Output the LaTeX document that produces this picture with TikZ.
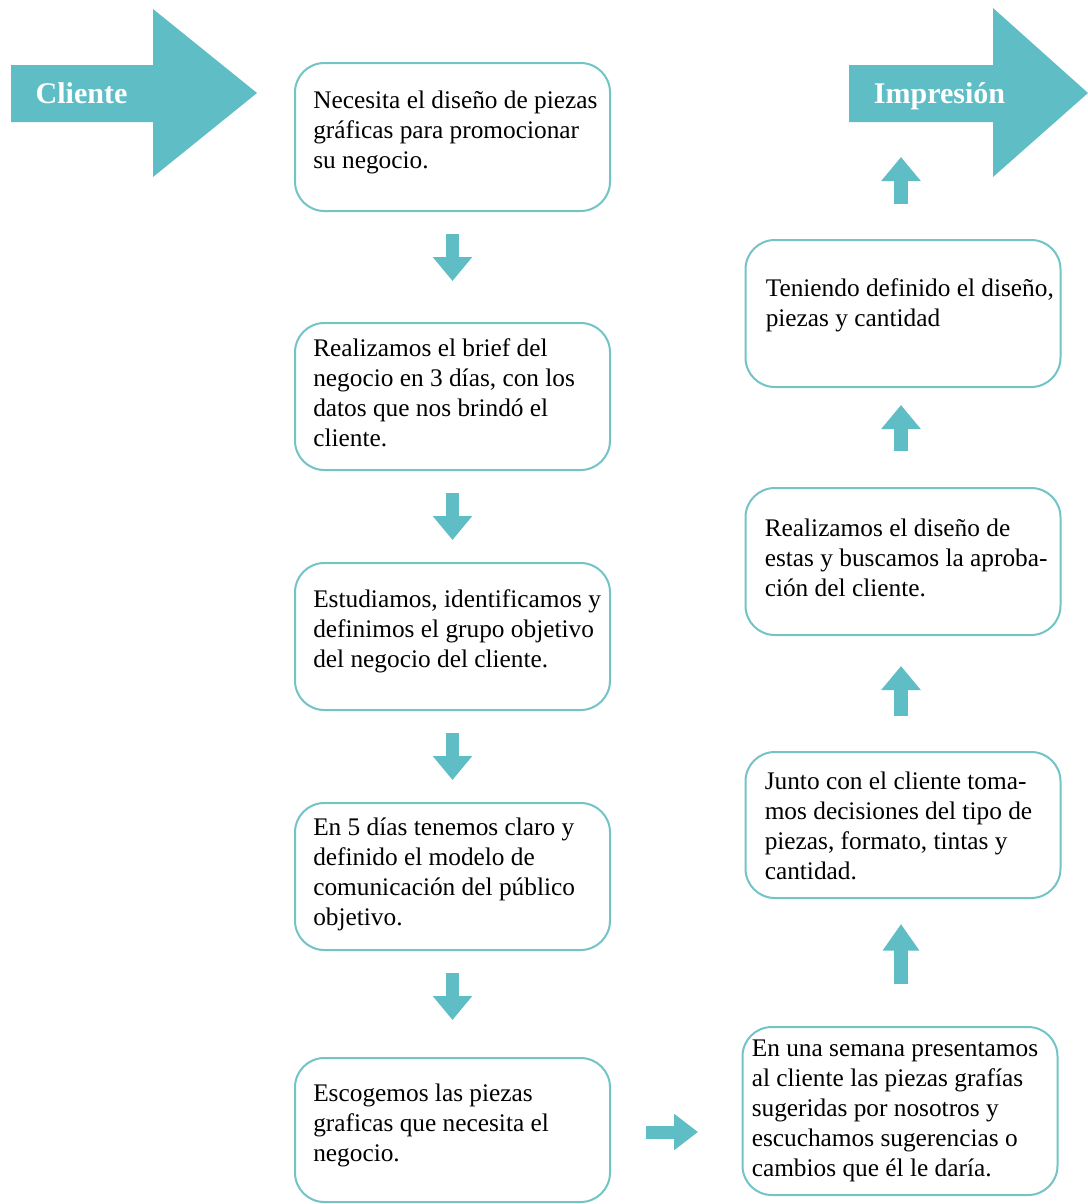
\documentclass[tikz,border=0pt]{standalone}
\usepackage{fontspec}
\setmainfont{Liberation Serif}
\usetikzlibrary{arrows.meta,calc}
\definecolor{teal1}{HTML}{5FBEC5}
\definecolor{boxline}{HTML}{72C4C7}
\begin{document}
\begin{tikzpicture}[x=0.75pt,y=-0.75pt,
  box/.style={draw=boxline, line width=1.5pt, rounded corners=22pt, minimum width=236.25pt, inner sep=0pt},
  txt/.style={anchor=west, align=left, inner sep=0pt, font=\fontsize{19}{22.5}\selectfont, text=black},
  blk/.style={draw=teal1, line width=9.75pt, -{Triangle[width=28.5pt,length=18pt]}},
  upblk/.style={draw=teal1, line width=10.5pt, -{Triangle[width=28.5pt,length=18pt]}},
  bigtxt/.style={anchor=base, text=white, font=\fontsize{22.5}{27}\selectfont\bfseries, inner sep=0pt}]
\useasboundingbox (0,0) rectangle (1088,1204);
\fill[white] (0,0) rectangle (1088,1204);

% big arrows
\fill[teal1] (11,65) -- (153,65) -- (153,9) -- (257,93) -- (153,177) -- (153,122) -- (11,122) -- cycle;
\fill[teal1] (849,65) -- (993,65) -- (993,8) -- (1088,93) -- (993,177) -- (993,122) -- (849,122) -- cycle;
\node[bigtxt] (cl) at (81.5,103) {Cliente};
\node[bigtxt] (im) at (939.5,103) {Impresión};

% left column boxes
\node[box, minimum height=111pt] (b1) at (452.5,137) {};
\node[box, minimum height=110.25pt] (b2) at (452.5,396.5) {};
\node[box, minimum height=110.25pt] (b3) at (452.5,636.5) {};
\node[box, minimum height=110.25pt] (b4) at (452.5,876.5) {};
\node[box, minimum height=108pt] (b5) at (452.5,1130) {};
% right column boxes
\node[box, minimum height=110.25pt] (r1) at (903,313.5) {};
\node[box, minimum height=110.25pt] (r2) at (903,561.5) {};
\node[box, minimum height=109.5pt] (r3) at (903,825) {};
\node[box, minimum height=126pt] (r4) at (900,1111) {};

% texts
\node[txt] (t1) at ($(b1.west)+(19,-5)$) {Necesita el diseño de piezas\\gráficas para promocionar\\su negocio.};
\node[txt] (t2) at ($(b2.west)+(19,-4)$) {Realizamos el brief del\\negocio en 3 días, con los\\datos que nos brindó el\\cliente.};
\node[txt] (t3) at ($(b3.west)+(19,-5)$) {Estudiamos, identificamos y\\definimos el grupo objetivo\\del negocio del cliente.};
\node[txt] (t4) at ($(b4.west)+(19,-2)$) {En 5 días tenemos claro y\\definido el modelo de\\comunicación del público\\objetivo.};
\node[txt] (t5) at ($(b5.west)+(19,-5)$) {Escogemos las piezas\\graficas que necesita el\\negocio.};
\node[txt] (s1) at ($(r1.west)+(21,-8)$) {Teniendo definido el diseño,\\piezas y cantidad};
\node[txt] (s2) at ($(r2.west)+(20,-4)$) {Realizamos el diseño de\\estas y buscamos la aproba-\\ción del cliente.};
\node[txt] (s3) at ($(r3.west)+(20,1)$) {Junto con el cliente toma-\\mos decisiones del tipo de\\piezas, formato, tintas y\\cantidad.};
\node[txt] (s4) at ($(r4.west)+(10,0)$) {En una semana presentamos\\al cliente las piezas grafías\\sugeridas por nosotros y\\escuchamos sugerencias o\\cambios que él le daría.};

% down arrows
\draw[blk] ($(b1.south)+(0,22)$) -- ($(b2.north)+(0,-41)$);
\draw[blk] ($(b2.south)+(0,22)$) -- ($(b3.north)+(0,-22)$);
\draw[blk] ($(b3.south)+(0,22)$) -- ($(b4.north)+(0,-22)$);
\draw[blk] ($(b4.south)+(0,22)$) -- ($(b5.north)+(0,-37)$);

% right arrow
\draw[draw=teal1, line width=9.75pt, -{Triangle[width=26.25pt,length=18pt]}] ($(b5.east)+(35,2)$) -- ($(b5.east)+(87,2)$);

% up arrows
\draw[draw=teal1, line width=10.5pt, -{Triangle[width=26.25pt,length=20pt]}] ($(r4.north)+(1,-42)$) -- ($(r3.south)+(-2,25)$);
\draw[upblk] ($(r3.north)+(-2,-35)$) -- ($(r2.south)+(-2,30)$);
\draw[upblk] ($(r2.north)+(-2,-36)$) -- ($(r1.south)+(-2,17)$);
\draw[upblk] ($(r1.north)+(-2,-35)$) -- ($(r1.north)+(-2,-82)$);
\end{tikzpicture}
\end{document}
